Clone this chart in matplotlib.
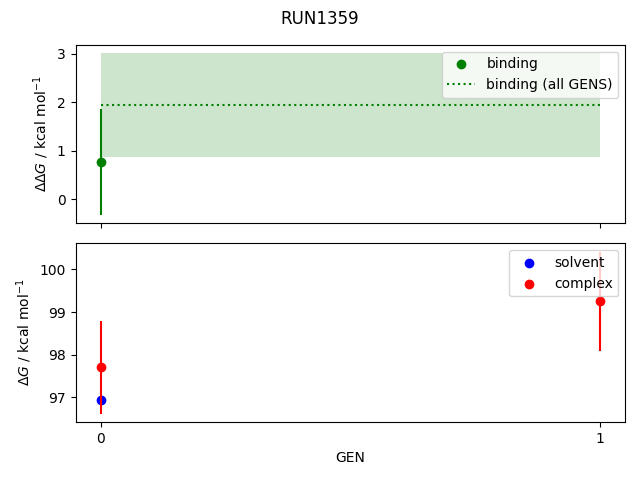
import matplotlib
matplotlib.use('Agg')
import matplotlib.pyplot as plt
import numpy as np

run_name = 'RUN1359'
gens = [0, 1]

# binding free energy per GEN
binding_gen = [0]
binding_dg = [0.77]
binding_err = [1.09]

# binding over all GENS
all_dg = 1.95
all_err = 1.075

# solvent / complex legs
solvent_gen = [0]
solvent_dg = [96.93]
complex_gen = [0, 1]
complex_dg = [97.70, 99.25]
complex_err = [1.09, 1.17]

fig, (ax1, ax2) = plt.subplots(2, 1, sharex=True, figsize=(6.4, 4.8), dpi=100)

ax1.errorbar(binding_gen, binding_dg, yerr=binding_err, fmt='none', color='green')
ax1.scatter(binding_gen, binding_dg, color='green', label='binding')
ax1.hlines(all_dg, gens[0], gens[-1], color='green', linestyle=':', label='binding (all GENS)')
ax1.fill_between(gens, all_dg - all_err, all_dg + all_err, color='green', alpha=0.2, linewidth=0)
ax1.set_ylabel(r'$\Delta\Delta G$ / kcal mol$^{-1}$')
ax1.legend(loc='upper right')

ax2.scatter(solvent_gen, solvent_dg, color='blue', label='solvent')
ax2.errorbar(complex_gen, complex_dg, yerr=complex_err, fmt='none', color='red')
ax2.scatter(complex_gen, complex_dg, color='red', label='complex')
ax2.set_ylabel(r'$\Delta G$ / kcal mol$^{-1}$')
ax2.set_xlabel('GEN')
ax2.set_xticks(gens)
ax2.legend(loc='upper right')

fig.suptitle(run_name)
fig.subplots_adjust(left=0.118, right=0.977, top=0.907, bottom=0.121, hspace=0.114)
fig.savefig('out.png')
